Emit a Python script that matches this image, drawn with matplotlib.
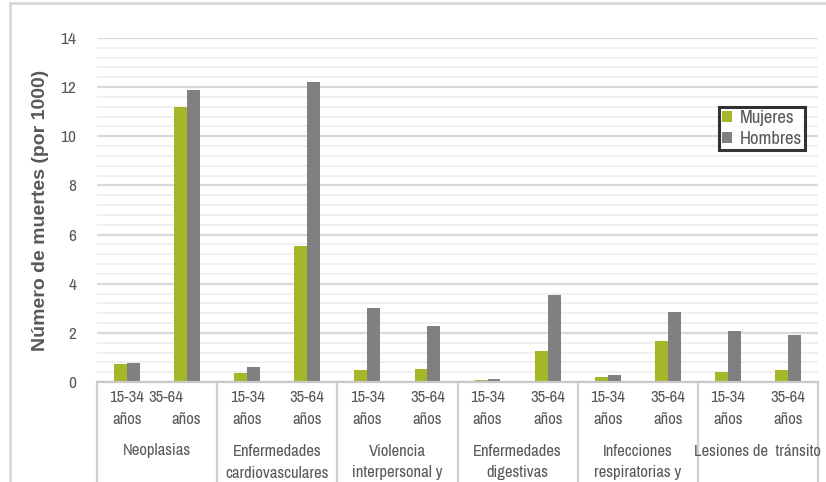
import matplotlib
matplotlib.use("Agg")
import matplotlib.pyplot as plt
from matplotlib.lines import Line2D
from matplotlib.patches import Patch
import matplotlib.transforms as mtransforms
import numpy as np

plt.rcParams['font.family'] = ['Archivo Narrow', 'Liberation Sans', 'DejaVu Sans']

groups = ["Neoplasias", "Enfermedades\ncardiovasculares", "Violencia\ninterpersonal y",
          "Enfermedades\ndigestivas", "Infecciones\nrespiratorias y", "Lesiones de  tránsito"]
ages = ["15-34\naños", "35-64\naños"]
mujeres = [0.75, 11.2, 0.35, 5.55, 0.5, 0.52, 0.07, 1.25, 0.2, 1.65, 0.42, 0.5]
hombres = [0.78, 11.87, 0.6, 12.2, 3.0, 2.27, 0.12, 3.55, 0.28, 2.85, 2.07, 1.92]
series_names = ["Mujeres", "Hombres"]
colors = ["#a5b729", "#808080"]

W, H = 826, 482
fig = plt.figure(figsize=(W / 100, H / 100), dpi=100)
ax = fig.add_axes([97 / W, 100 / H, (818 - 97) / W, (444 - 100) / H])

x = np.arange(len(mujeres))
bw = 0.215
ax.bar(x - bw / 2, mujeres, bw, color=colors[0], zorder=3, label=series_names[0])
ax.bar(x + bw / 2, hombres, bw, color=colors[1], zorder=3, label=series_names[1])

ax.set_xlim(-0.5, len(x) - 0.5)
ax.set_ylim(0, 14)
ax.set_yticks(np.arange(0, 15, 2))
ax.set_yticks(np.arange(0, 14.01, 0.4), minor=True)
ax.grid(axis='y', which='minor', color='#efefef', lw=1.3, zorder=0)
ax.grid(axis='y', which='major', color='#d9d9d9', lw=1.6, zorder=1)
ax.tick_params(axis='y', which='both', length=0, labelsize=12.5, labelcolor='#595959', pad=15)
ax.set_xticks([])
for s in ['top', 'right', 'left']:
    ax.spines[s].set_visible(False)
ax.spines['bottom'].set_color('#c8c8c8')
ax.spines['bottom'].set_linewidth(1.6)
ax.spines['bottom'].set_zorder(4)

ax.set_ylabel("Número de muertes (por 1000)", fontsize=14, fontweight='bold',
              color='#595959', labelpad=8, family=['Liberation Sans', 'DejaVu Sans'])

trans = mtransforms.blended_transform_factory(ax.transData, ax.transAxes)
axh = (444 - 100)
def ay(py):
    return (H - py - 100) / axh

for b in np.arange(-0.5, len(x), 2):
    ax.plot([b, b], [0, ay(H + 5)], transform=trans, color='#d0d0d0', lw=1.6,
            clip_on=False, zorder=2)

tc = '#595959'
fs = 12
for i in range(len(x)):
    top, bot = ages[i % 2].split("\n")
    if i == 1:
        xt, xb = i - 0.36, i - 0.02
    else:
        xt, xb = i, i
    ax.text(xt, ay(398), top, transform=trans, ha='center', va='center', fontsize=fs, color=tc)
    ax.text(xb, ay(419), bot, transform=trans, ha='center', va='center', fontsize=fs, color=tc)

for g, name in enumerate(groups):
    for k, ln in enumerate(name.split("\n")):
        ax.text(2 * g + 0.5, ay(451 + 22 * k), ln, transform=trans, ha='center', va='center',
                fontsize=fs, color=tc, clip_on=False)

handles = [Patch(facecolor=colors[0]), Patch(facecolor=colors[1])]
leg = fig.legend(handles, series_names, loc='upper left',
                 bbox_to_anchor=(719 / W, 1 - 107 / H), fontsize=13.5,
                 frameon=True, fancybox=False, borderpad=0.15, labelspacing=0.3,
                 handlelength=0.55, handleheight=0.55, handletextpad=0.4,
                 borderaxespad=0)
leg.get_frame().set_edgecolor('black')
leg.get_frame().set_linewidth(2.2)
for t in leg.get_texts():
    t.set_color('#595959')

bc = '#d9d9d9'
fig.add_artist(Line2D([10 / W, 10 / W], [0, 1 - 3 / H], color=bc, lw=2, transform=fig.transFigure))
fig.add_artist(Line2D([10 / W, 1], [1 - 3 / H, 1 - 3 / H], color=bc, lw=2, transform=fig.transFigure))

fig.savefig("out.png", dpi=100)
